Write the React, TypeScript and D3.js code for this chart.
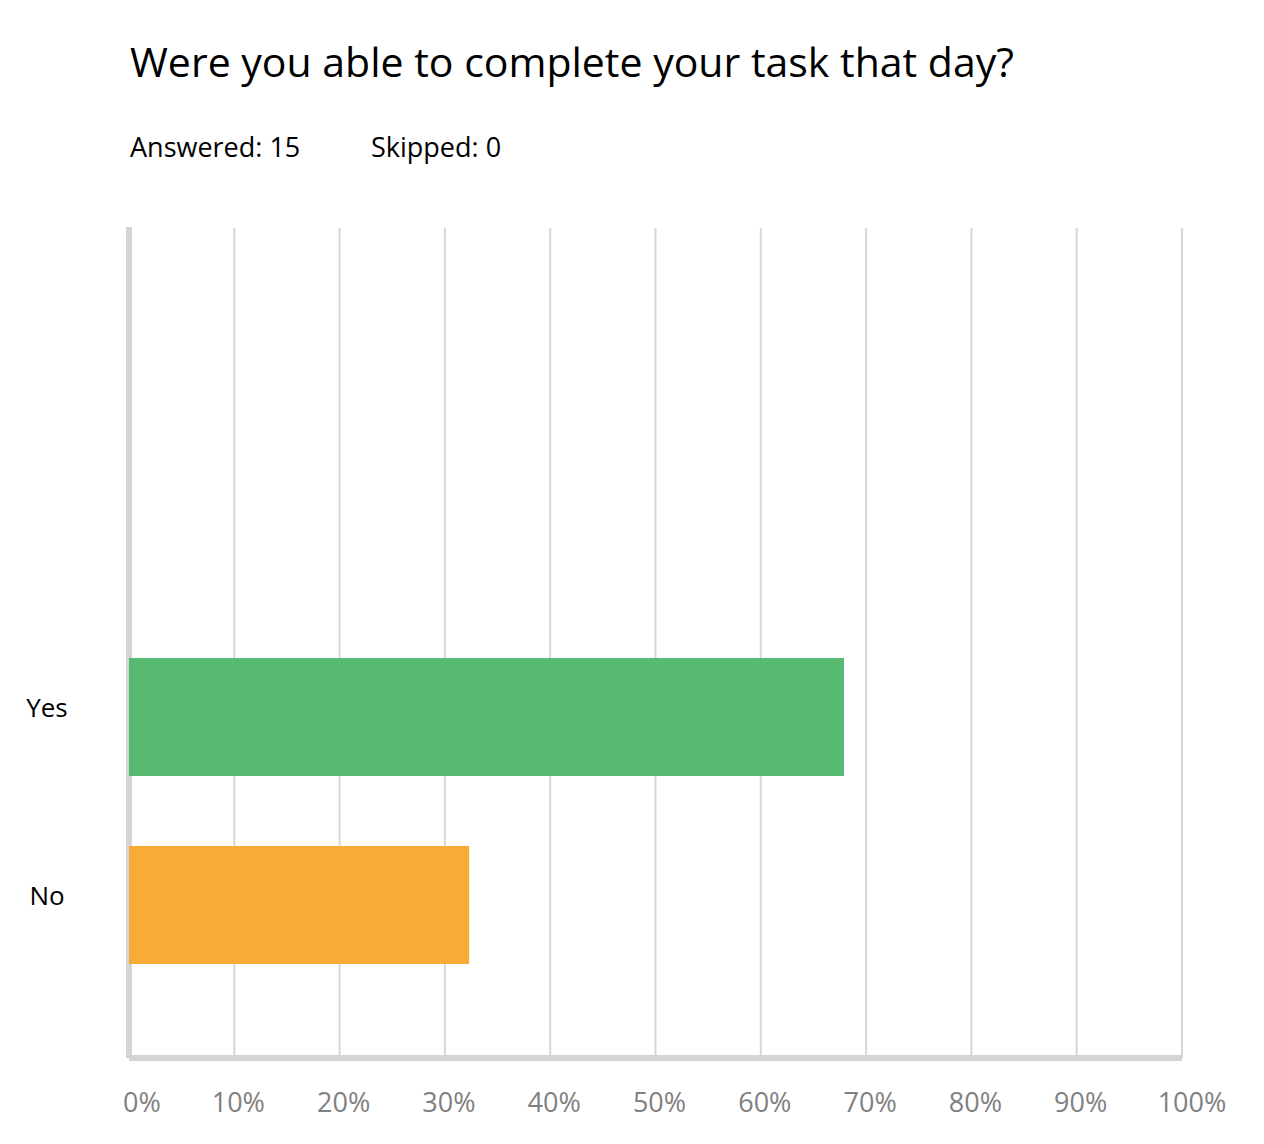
import React from "react";
import * as d3 from "d3";

const categories = ["Yes", "No"];
const values = [67.9, 32.3];
const colors = ["#58B971", "#F8AC36"];
const ticks = [0, 10, 20, 30, 40, 50, 60, 70, 80, 90, 100];
const title = "Were you able to complete your task that day?";
const answered = "Answered: 15";
const skipped = "Skipped: 0";

export default function App() {
  const W = 1264, H = 1144;
  const x = d3.scaleLinear().domain([0, 100]).range([129, 1182]);
  const y = d3.scaleBand().domain(categories).range([564, 1058]).paddingInner(70 / 188).paddingOuter(0.5);
  const font = "'Open Sans', sans-serif";
  return (
    <svg width={W} height={H} style={{ position: "absolute", left: 0, top: 0, background: "#fff" }}>
      <text x={130} y={77} fontFamily={font} fontSize={41} fill="#000">{title}</text>
      <text x={130} y={157} fontFamily={font} fontSize={27} fill="#000">{answered}</text>
      <text x={371} y={157} fontFamily={font} fontSize={27} fill="#000">{skipped}</text>
      {ticks.slice(1).map((t) => (
        <line key={t} x1={x(t)} x2={x(t)} y1={228} y2={1058} stroke="#D7D7D7" strokeWidth={2} />
      ))}
      <line x1={129} x2={129} y1={227} y2={1058} stroke="#D4D4D6" strokeWidth={6} />
      <line x1={129} x2={1182} y1={1058} y2={1058} stroke="#D4D4D6" strokeWidth={6} />
      {categories.map((c, i) => (
        <g key={c}>
          <rect x={x(0)} y={y(c)} width={x(values[i]) - x(0)} height={y.bandwidth()} fill={colors[i]} />
          <text x={47} y={(y(c) as number) + y.bandwidth() / 2} textAnchor="middle" fontFamily={font} fontSize={26} fill="#000">{c}</text>
        </g>
      ))}
      {ticks.map((t) => (
        <text key={t} x={x(t) + (t === 0 ? 13 : t === 100 ? 10 : 4)} y={1112} textAnchor="middle" fontFamily={font} fontSize={27} fill="#808080">{t}%</text>
      ))}
    </svg>
  );
}
